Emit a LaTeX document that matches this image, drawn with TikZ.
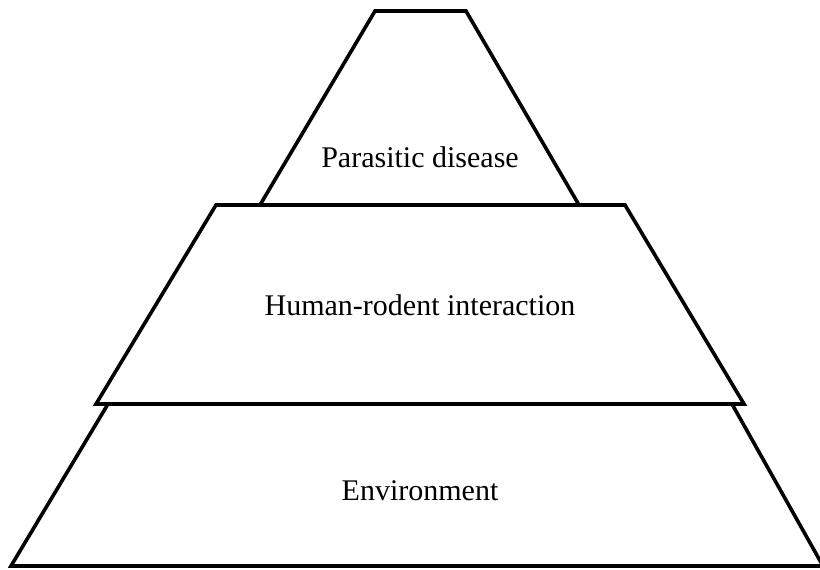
\documentclass[tikz,border=0pt]{standalone}
\usepackage{fontspec}
\setmainfont{Liberation Serif}
\begin{document}
\begin{tikzpicture}[x=1pt,y=-1pt,
  tier/.style={draw=black,line width=3.6pt,line join=miter},
  lbl/.style={font=\fontsize{30}{34}\selectfont,inner sep=0pt}]
\useasboundingbox (0,0) rectangle (820,570);
\clip (0,0) rectangle (820,570);
% bottom tier
\coordinate (b1) at (108,404);
\coordinate (b2) at (732,404);
\coordinate (b3) at (823,566);
\coordinate (b4) at (11,566);
\draw[tier] (b1) -- (b2) -- (b3) -- (b4) -- cycle;
% middle tier
\coordinate (m1) at (216,205);
\coordinate (m2) at (625,205);
\coordinate (m3) at (744,404);
\coordinate (m4) at (96,404);
\draw[tier] (m1) -- (m2) -- (m3) -- (m4) -- cycle;
% top tier
\coordinate (t1) at (375,11);
\coordinate (t2) at (466,11);
\coordinate (t3) at (579,205);
\coordinate (t4) at (260,205);
\draw[tier] (t4) -- (t1) -- (t2) -- (t3);
% labels
\node[lbl] (top) at (420,157) {Parasitic disease};
\node[lbl] (mid) at (420,305) {Human-rodent interaction};
\node[lbl] (bot) at (420,491) {Environment};
\end{tikzpicture}
\end{document}
